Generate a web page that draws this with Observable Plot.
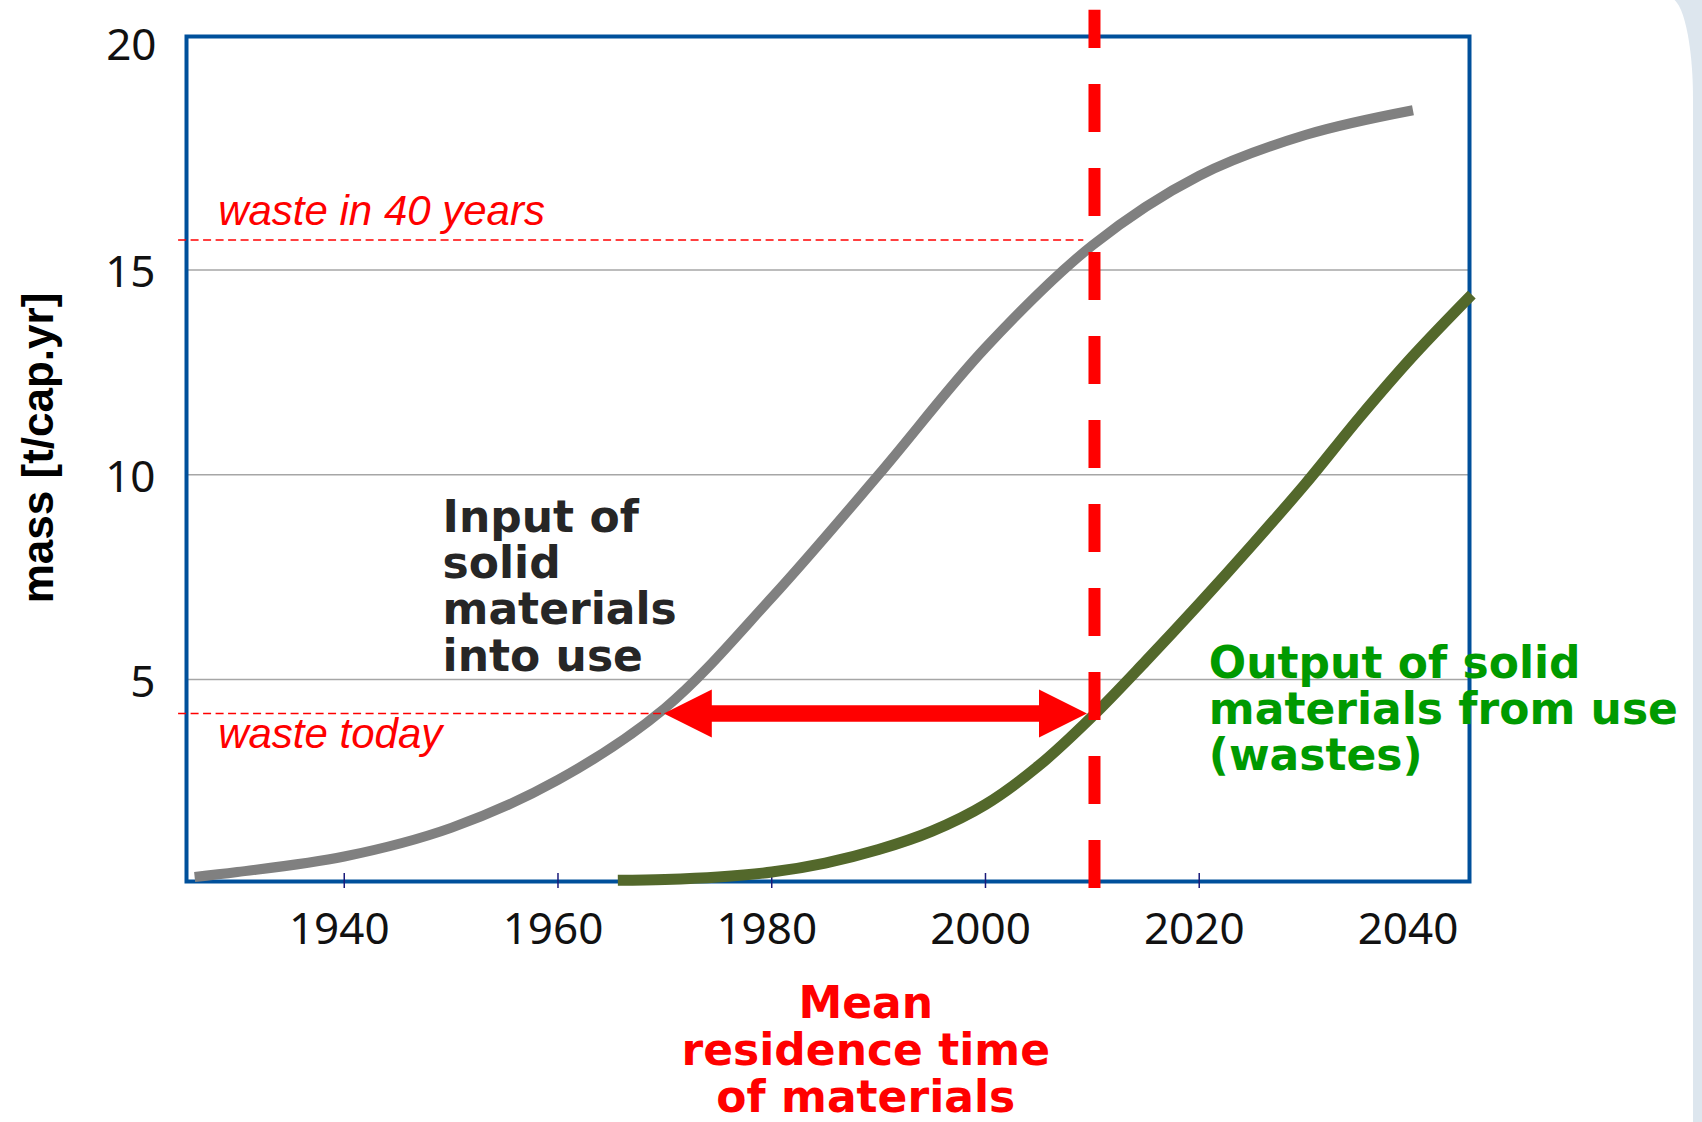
<!DOCTYPE html>
<html><head><meta charset="utf-8">
<script src="https://cdn.jsdelivr.net/npm/d3@7"></script>
<script src="https://cdn.jsdelivr.net/npm/@observablehq/plot@0.6"></script>
<style>
html,body{margin:0;padding:0;overflow:hidden;background:#dde6ee;width:1702px;height:1122px;}
#panel{position:absolute;left:0;top:-2px;width:1693px;height:1130px;background:#fff;border-top-right-radius:23px 100px;}
#chart{position:absolute;left:0;top:0;}
</style></head><body><div id="panel"></div><div id="chart"></div>
<script>
// ---- data ----
const inputYears = [1926, 1930, 1940, 1950, 1960, 1970, 1980, 1990, 2000, 2010, 2020, 2030, 2040];
const inputMass  = [0.18, 0.3, 0.68, 1.38, 2.55, 4.3, 7.0, 10.0, 13.1, 15.6, 17.3, 18.3, 18.9];
const outputYears = [1965.6, 1970, 1975, 1980, 1985, 1990, 1995, 2000, 2005, 2010, 2015, 2020, 2025, 2030, 2035, 2040, 2045.5];
const outputMass  = [0.1, 0.12, 0.18, 0.3, 0.52, 0.85, 1.3, 1.95, 2.9, 4.1, 5.45, 6.85, 8.3, 9.8, 11.4, 12.9, 14.4];
const xTickMarks = [1940, 1960, 1980, 2000, 2020];
const xTickLabels = [1940, 1960, 1980, 2000, 2020, 2040];
const yTicks = [5, 10, 15];
const yTopLabel = ["20"];
const yTitle = ["mass [t/cap.yr]"];
const wasteLevels = [15.73, 4.17];
const wasteLineStart = [1924.5, 1924.5];
const wasteLineEnd = [2009.2, 1969.9];
const wasteLabels = ["waste in 40 years", "waste today"];
const wasteLabelYear = [1928.2, 1928.2];
const wasteLabelLevel = [16.09, 3.32];
const meanYear = [2010.2];
const arrowYears = [1969.9, 2009.5];
const arrowLevel = 4.17;
const inputLabel = ["Input of\nsolid\nmaterials\ninto use"];
const outputLabel = ["Output of solid\nmaterials from use\n(wastes)"];
const meanLabel = ["Mean\nresidence time\nof materials"];

const inputData = inputYears.map((x, i) => ({x, y: inputMass[i]}));
const outputData = outputYears.map((x, i) => ({x, y: outputMass[i]}));
const wasteData = wasteLevels.map((y, i) => ({y, x1: wasteLineStart[i], x2: wasteLineEnd[i], label: wasteLabels[i], lx: wasteLabelYear[i], ly: wasteLabelLevel[i]}));
const arrowData = [{x1: arrowYears[0], x2: arrowYears[1], y: arrowLevel}];

const head = {
  draw(ctx, size) {
    const L = Math.sqrt(size / Math.PI) * 2;
    ctx.moveTo(0, 0);
    ctx.lineTo(-L, -L / 2);
    ctx.lineTo(-L, L / 2);
    ctx.closePath();
  }
};

const tickFont = "'Noto Sans', sans-serif";
const boldFont = "'DejaVu Sans', sans-serif";
const arialFont = "'Liberation Sans', Arial, sans-serif";

const chart = Plot.plot({
  width: 1702, height: 1122,
  marginLeft: 186, marginTop: 36, marginRight: 233, marginBottom: 241,
  style: {background: "transparent", overflow: "visible"},
  x: {domain: [1925.24, 2045.29]},
  y: {domain: [0.07, 20.7]},
  marks: [
    Plot.gridY(yTicks, {stroke: "#a6a6a6", strokeOpacity: 1, strokeWidth: 1.6}),
    Plot.frame({stroke: "#00509b", strokeWidth: 4}),
    Plot.axisX(xTickMarks, {tickSize: 15, dy: -8, fill: "none", stroke: "#1a1a7a", strokeWidth: 1.5, label: null}),
    Plot.axisX(xTickLabels, {tickSize: 0, tickPadding: 31, dx: -5, fontSize: 44, fontFamily: tickFont, fill: "#111", label: null, tickFormat: d => String(d)}),
    Plot.axisY(yTicks, {tickSize: 0, tickPadding: 31, dy: 3, fontSize: 44, fontFamily: tickFont, fill: "#111", label: null}),
    Plot.text(yTopLabel, {frameAnchor: "top-left", text: d => d, dx: -30, dy: 9, textAnchor: "end", lineAnchor: "middle", fontSize: 44, fontFamily: tickFont, fill: "#111"}),
    Plot.text(yTitle, {frameAnchor: "left", text: d => d, rotate: -90, dx: -134, dy: -11, textAnchor: "middle", lineAnchor: "bottom", fontSize: 44, fontWeight: "bold", fontFamily: arialFont, fill: "#000"}),
    Plot.line(inputData, {x: "x", y: "y", stroke: "#808080", strokeWidth: 10, curve: "catmull-rom", strokeLinecap: "butt"}),
    Plot.line(outputData, {x: "x", y: "y", stroke: "#53682b", strokeWidth: 11, curve: "catmull-rom", strokeLinecap: "butt"}),
    Plot.ruleY(wasteData, {y: "y", x1: "x1", x2: "x2", stroke: "#ff0000", strokeWidth: 1.5, strokeDasharray: "8,4.5"}),
    Plot.text(wasteData, {x: "lx", y: "ly", text: "label", textAnchor: "start", lineAnchor: "bottom", fontSize: 42, fontStyle: "italic", fontFamily: arialFont, fill: "#ff0000"}),
    Plot.ruleY(arrowData, {y: "y", x1: "x1", x2: "x2", stroke: "#ff0000", strokeWidth: 16.5, insetLeft: 40, insetRight: 40}),
    Plot.dot(arrowData, {x: "x2", y: "y", r: 24, symbol: head, fill: "#ff0000", stroke: "none"}),
    Plot.dot(arrowData, {x: "x1", y: "y", r: 24, symbol: head, rotate: 180, fill: "#ff0000", stroke: "none"}),
    Plot.ruleX(meanYear, {x: d => d, y1: -0.1, y2: 21.34, stroke: "#ff0000", strokeWidth: 12, strokeDasharray: "48,36"}),
    Plot.text(inputLabel, {x: 1949.2, y: 5.22, text: d => d, textAnchor: "start", lineAnchor: "bottom", lineHeight: 1.048, fontSize: 44, fontWeight: "bold", fontFamily: boldFont, fill: "#262626"}),
    Plot.text(outputLabel, {x: 2020.9, y: 2.78, text: d => d, textAnchor: "start", lineAnchor: "bottom", lineHeight: 1.053, fontSize: 44, fontWeight: "bold", fontFamily: boldFont, fill: "#009a00"}),
    Plot.text(meanLabel, {x: 1988.8, frameAnchor: "bottom", dy: 230, text: d => d, textAnchor: "middle", lineAnchor: "bottom", lineHeight: 1.06, fontSize: 44, fontWeight: "bold", fontFamily: boldFont, fill: "#ff0000"})
  ]
});
document.getElementById("chart").appendChild(chart);
</script>
</body></html>
